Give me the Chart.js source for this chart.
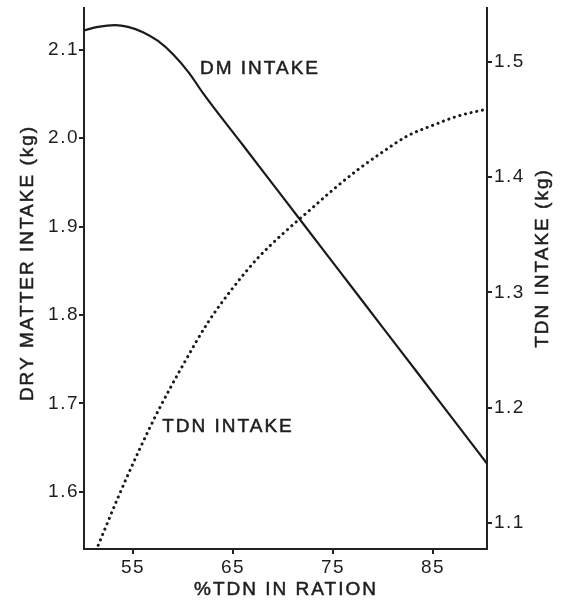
<!DOCTYPE html>
<html>
<head>
<meta charset="utf-8">
<script src="https://cdn.jsdelivr.net/npm/chart.js@4.4.0/dist/chart.umd.min.js"></script>
<style>
  html, body { margin: 0; padding: 0; background: #fff; }
</style>
</head>
<body>
<canvas id="grafico" width="564" height="605"></canvas>
<script>
// Dados
// Consumo de materia seca (eixo esquerdo, kg)
var dmTdn = [50.1, 51.5, 53.2, 54.5, 56, 57.5, 59, 60.6, 62, 66, 70, 74, 78, 82, 86, 90.4];
var dmIntake = [2.122, 2.126, 2.128, 2.126, 2.12, 2.11, 2.095, 2.074, 2.051, 1.992, 1.933, 1.874, 1.815, 1.756, 1.697, 1.632];

// Consumo de NDT (eixo direito, kg)
var tdnTdn = [51.3, 53.5, 55.5, 57.5, 60, 62.5, 65, 67.5, 70, 72.5, 75, 77.5, 80, 82.5, 85, 87.5, 90.4];
var tdnIntake = [1.076, 1.122, 1.161, 1.197, 1.237, 1.274, 1.304, 1.33, 1.351, 1.37, 1.389, 1.4065, 1.422, 1.436, 1.445, 1.453, 1.459];

// Marcas dos eixos
var xTicks = [55, 65, 75, 85];
var dmTicks = [1.6, 1.7, 1.8, 1.9, 2.0, 2.1];
var tdnTicks = [1.1, 1.2, 1.3, 1.4, 1.5];

// Rotulos dentro do grafico (posicao em valores dos eixos)
var rotulos = [
  { text: "DM INTAKE", x: 67.7, y: 2.0785 },
  { text: "TDN INTAKE", x: 64.5, y: 1.674 }
];

var corTexto = "#1e1e1e";
var fonte = "'Liberation Sans', Arial, sans-serif";

function pontos(xs, ys) {
  return xs.map(function (v, i) {
    return { x: v, y: ys[i] };
  });
}

function fixarTicks(lista) {
  return function (scale) {
    scale.ticks = lista.map(function (v) {
      return { value: v };
    });
  };
}

function escrever(ctx, txt, x, y) {
  ctx.strokeText(txt, x, y);
  ctx.fillText(txt, x, y);
}

var textos = {
  id: "textos",
  beforeLayout: function (chart) {
    chart.ctx.letterSpacing = "1.5px";
  },
  beforeDraw: function (chart) {
    chart.ctx.letterSpacing = "1.5px";
  },
  afterDraw: function (chart) {
    var ctx = chart.ctx;
    var sx = chart.scales.x;
    var sy = chart.scales.y;
    ctx.save();
    ctx.fillStyle = corTexto;
    ctx.strokeStyle = corTexto;
    ctx.lineWidth = 0.5;
    ctx.letterSpacing = "2px";
    ctx.textAlign = "center";
    ctx.textBaseline = "middle";
    ctx.font = "19px " + fonte;

    rotulos.forEach(function (r) {
      escrever(ctx, r.text, sx.getPixelForValue(r.x), sy.getPixelForValue(r.y));
    });

    // titulo eixo x
    escrever(ctx, "%TDN IN RATION", 286, 590);

    // titulo eixo esquerdo
    ctx.save();
    ctx.translate(28, 263);
    ctx.rotate(-Math.PI / 2);
    escrever(ctx, "DRY MATTER INTAKE (kg)", 0, 0);
    ctx.restore();

    // titulo eixo direito
    ctx.save();
    ctx.translate(543, 258);
    ctx.rotate(-Math.PI / 2);
    escrever(ctx, "TDN INTAKE (kg)", 0, 0);
    ctx.restore();

    ctx.restore();
  }
};

var eixo = {
  grid: { drawOnChartArea: false, tickLength: 5, color: "#222", lineWidth: 2 },
  border: { display: true, color: "#222", width: 2 }
};

function semPadding(largura) {
  return function (s) {
    s.width = largura;
    s.paddingTop = 0;
    s.paddingBottom = 0;
  };
}

var ctx = document.getElementById("grafico").getContext("2d");

new Chart(ctx, {
  type: "line",
  data: {
    datasets: [
      {
        label: "DM INTAKE",
        data: pontos(dmTdn, dmIntake),
        yAxisID: "y",
        borderColor: "#1a1a1a",
        borderWidth: 2.2,
        pointRadius: 0,
        cubicInterpolationMode: "monotone",
        fill: false
      },
      {
        label: "TDN INTAKE",
        data: pontos(tdnTdn, tdnIntake),
        yAxisID: "y2",
        borderColor: "#1a1a1a",
        borderWidth: 3,
        borderDash: [0.1, 5.7],
        borderCapStyle: "round",
        pointRadius: 0,
        cubicInterpolationMode: "monotone",
        fill: false
      }
    ]
  },
  options: {
    responsive: false,
    animation: false,
    layout: { padding: { top: 8, left: 0, right: 0, bottom: 0 } },
    plugins: {
      legend: { display: false },
      tooltip: { enabled: false }
    },
    scales: {
      x: {
        type: "linear",
        min: 50.1,
        max: 90.4,
        afterBuildTicks: fixarTicks(xTicks),
        afterFit: function (s) { s.height = 56; s.paddingLeft = 0; s.paddingRight = 0; },
        grid: eixo.grid,
        border: eixo.border,
        ticks: {
          color: corTexto,
          font: { family: fonte, size: 19 },
          padding: 2,
          maxRotation: 0,
          autoSkip: false
        }
      },
      y: {
        position: "left",
        min: 1.5353,
        max: 2.1473,
        afterBuildTicks: fixarTicks(dmTicks),
        afterFit: semPadding(84),
        grid: eixo.grid,
        border: eixo.border,
        ticks: {
          color: corTexto,
          font: { family: fonte, size: 19 },
          padding: 0,
          callback: function (v) { return v.toFixed(1); }
        }
      },
      y2: {
        position: "right",
        min: 1.0774,
        max: 1.5467,
        afterBuildTicks: fixarTicks(tdnTicks),
        afterFit: semPadding(77),
        grid: eixo.grid,
        border: eixo.border,
        ticks: {
          color: corTexto,
          font: { family: fonte, size: 19 },
          padding: 2,
          callback: function (v) { return v.toFixed(1); }
        }
      }
    }
  },
  plugins: [textos]
});
</script>
</body>
</html>
